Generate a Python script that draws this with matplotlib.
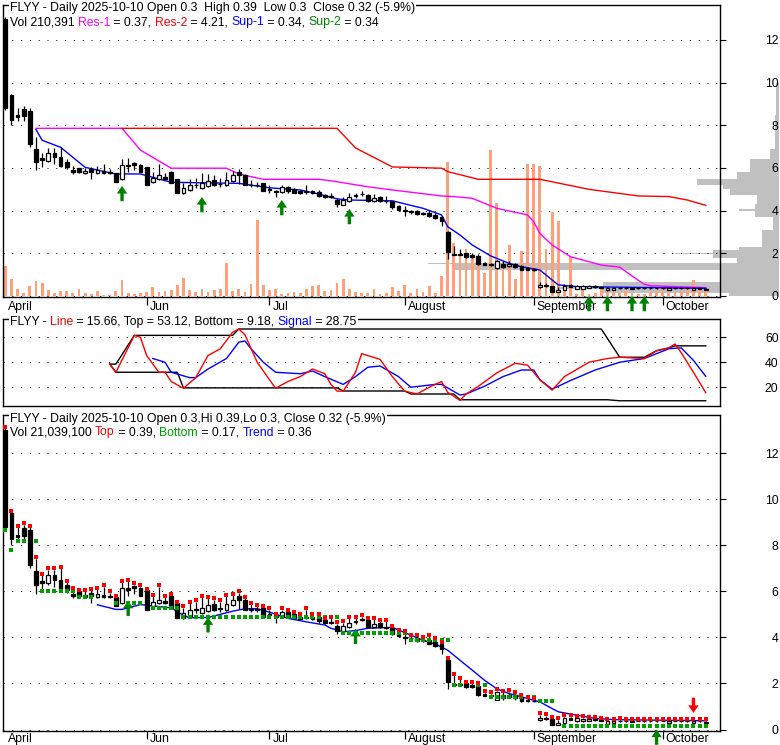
import numpy as np
import matplotlib
matplotlib.use('Agg')
import matplotlib.pyplot as plt
from matplotlib.patches import Rectangle

plt.rcParams['font.family'] = ['Liberation Sans', 'DejaVu Sans']

# ---- data (trading days 2025-04-29 .. 2025-10-10) ----
opens = [13.0, 9.43, 8.47, 8.78, 8.65, 6.9, 6.45, 6.35, 6.7, 6.5,
         6.3, 5.9, 6.0, 5.75, 5.95, 5.75, 5.85, 5.82, 5.75, 5.5,
         6.14, 6.25, 6.15, 6.05, 5.35, 5.5, 5.6, 5.8, 5.5, 4.85,
         4.95, 5.22, 5.05, 5.15, 5.45, 5.27, 5.2, 5.4, 5.8, 5.65,
         5.22, 5.22, 5.3, 5.02, 4.92, 4.87, 5.1, 5.0, 4.9, 4.9,
         4.9, 4.87, 4.75, 4.67, 4.52, 4.27, 4.45, 4.72, 4.8, 4.75,
         4.45, 4.65, 4.47, 4.43, 4.2, 4.02, 3.99, 3.97, 3.87, 3.9,
         3.8, 3.7, 3.0, 1.97, 1.97, 2.0, 1.92, 1.87, 1.55, 1.5,
         1.3, 1.52, 1.4, 1.48, 1.4, 1.3, 1.25, 0.4, 0.5, 0.45,
         0.2, 0.3, 0.5, 0.35, 0.35, 0.38, 0.47, 0.43, 0.26, 0.3,
         0.39, 0.37, 0.33, 0.38, 0.37, 0.37, 0.37, 0.38, 0.28, 0.38,
         0.37, 0.37, 0.3, 0.36, 0.3]
highs = [13.1, 9.45, 8.8, 8.9, 8.8, 7.43, 6.7, 6.95, 6.95, 7.0,
         6.4, 6.1, 6.0, 6.0, 6.05, 6.1, 6.2, 5.95, 5.75, 6.4,
         6.45, 6.3, 6.2, 6.05, 5.8, 6.2, 5.75, 5.85, 5.5, 5.3,
         5.5, 5.55, 5.75, 5.7, 5.65, 5.55, 5.8, 5.85, 5.95, 5.7,
         5.45, 5.35, 5.3, 5.2, 4.95, 5.2, 5.15, 5.05, 4.95, 5.2,
         4.95, 4.95, 4.8, 4.85, 4.6, 4.65, 4.85, 4.85, 4.9, 4.78,
         4.8, 4.7, 4.7, 4.45, 4.25, 4.2, 4.05, 4.05, 3.95, 4.05,
         3.9, 3.75, 3.05, 2.35, 2.2, 2.0, 2.0, 1.95, 1.6, 1.55,
         1.68, 1.62, 1.65, 1.55, 1.45, 1.35, 1.3, 0.65, 0.6, 0.48,
         0.42, 0.55, 0.55, 0.52, 0.52, 0.5, 0.5, 0.45, 0.4, 0.4,
         0.42, 0.4, 0.4, 0.4, 0.39, 0.39, 0.39, 0.39, 0.39, 0.39,
         0.39, 0.39, 0.39, 0.39, 0.39]
lows = [8.7, 8.0, 8.2, 8.2, 7.0, 5.9, 6.05, 6.3, 6.2, 6.05,
        5.95, 5.7, 5.75, 5.7, 5.5, 5.7, 5.7, 5.7, 5.35, 5.45,
        5.8, 5.9, 5.8, 5.2, 5.3, 5.45, 5.45, 5.3, 4.85, 4.8,
        4.9, 5.05, 5.0, 5.1, 5.15, 5.1, 5.15, 5.35, 5.25, 5.2,
        5.1, 5.1, 4.9, 4.85, 4.65, 4.85, 4.85, 4.82, 4.8, 4.8,
        4.78, 4.65, 4.6, 4.6, 4.17, 4.25, 4.4, 4.6, 4.7, 4.4,
        4.4, 4.4, 4.35, 4.1, 4.0, 3.73, 3.85, 3.8, 3.8, 3.7,
        3.6, 3.3, 1.75, 1.9, 1.9, 1.8, 1.8, 1.45, 1.45, 1.4,
        1.28, 1.3, 1.35, 1.3, 1.2, 1.2, 1.18, 0.38, 0.4, 0.18,
        0.18, 0.28, 0.4, 0.33, 0.33, 0.36, 0.38, 0.36, 0.25, 0.28,
        0.34, 0.34, 0.32, 0.35, 0.34, 0.34, 0.34, 0.35, 0.27, 0.35,
        0.34, 0.34, 0.3, 0.33, 0.3]
closes = [8.8, 8.26, 8.38, 8.43, 7.13, 6.26, 6.38, 6.7, 6.5, 6.1,
          6.05, 5.8, 5.8, 5.85, 5.8, 5.9, 5.75, 5.78, 5.35, 6.15,
          6.08, 6.15, 5.8, 5.2, 5.55, 5.65, 5.5, 5.3, 4.85, 5.05,
          5.2, 5.18, 5.3, 5.4, 5.2, 5.23, 5.45, 5.65, 5.65, 5.2,
          5.18, 5.18, 4.9, 4.98, 4.88, 5.1, 4.9, 4.85, 4.82, 4.86,
          4.82, 4.7, 4.65, 4.63, 4.3, 4.5, 4.65, 4.68, 4.76, 4.45,
          4.6, 4.45, 4.43, 4.17, 4.05, 3.98, 3.96, 3.83, 3.84, 3.73,
          3.65, 3.5, 2.05, 1.94, 1.94, 1.83, 1.85, 1.48, 1.45, 1.45,
          1.65, 1.35, 1.52, 1.35, 1.22, 1.22, 1.22, 0.52, 0.47, 0.2,
          0.3, 0.48, 0.42, 0.48, 0.47, 0.45, 0.4, 0.38, 0.36, 0.37,
          0.36, 0.36, 0.38, 0.37, 0.36, 0.36, 0.36, 0.37, 0.38, 0.37,
          0.36, 0.36, 0.36, 0.35, 0.32]
# volume, thousands of shares
volume = [1260, 714, 294, 126, 420, 630, 546, 252, 126, 210,
          210, 126, 294, 126, 84, 210, 42, 42, 210, 672,
          126, 84, 126, 168, 378, 168, 210, 252, 462, 756,
          252, 168, 294, 168, 252, 294, 1386, 210, 294, 168,
          504, 3192, 462, 252, 294, 84, 126, 168, 126, 294,
          420, 462, 210, 252, 546, 714, 294, 168, 126, 126,
          294, 84, 126, 378, 210, 462, 126, 294, 168, 420,
          126, 840, 5628, 2226, 1680, 1974, 1722, 1344, 966, 6132,
          3906, 1428, 2142, 714, 1890, 5544, 5544, 5460, 1974, 3528,
          3150, 420, 1638, 84, 294, 84, 126, 294, 168, 126,
          126, 210, 126, 84, 84, 168, 210, 294, 126, 168,
          210, 336, 672, 294, 210]

month_names = ['April', 'Jun', 'Jul', 'August', 'September', 'October']
month_idx = [0, 23, 43, 65, 86, 107]

# support / resistance lines (day index, price)
res1_idx = [5, 19, 22, 27, 36, 38, 42, 51, 53, 59, 63, 71, 73, 76, 80, 85, 86, 87, 89, 92, 97, 100, 102, 104, 105, 114]
res1_val = [7.86, 7.86, 6.84, 5.99, 5.99, 5.72, 5.47, 5.47, 5.4, 5.12, 4.97, 4.69, 4.66, 4.58, 4.11, 3.8, 3.48, 2.94, 2.39, 1.84, 1.45, 1.35, 0.94, 0.55, 0.48, 0.39]
res2_idx = [19, 54, 57, 63, 71, 72, 77, 87, 95, 103, 108, 111, 114]
res2_val = [7.86, 7.86, 6.94, 6.05, 5.99, 5.83, 5.47, 5.47, 5.0, 4.69, 4.66, 4.5, 4.25]
sup1_idx = [5, 6, 9, 13, 18, 22, 27, 38, 43, 48, 51, 54, 56, 63, 68, 71, 72, 74, 76, 79, 82, 84, 87, 89, 90, 93, 114]
sup1_val = [7.8, 7.3, 6.97, 6.03, 5.72, 5.72, 5.33, 5.28, 5.07, 4.97, 4.78, 4.55, 4.5, 4.46, 4.11, 3.8, 3.25, 2.86, 2.39, 1.88, 1.53, 1.37, 1.22, 0.75, 0.52, 0.44, 0.36]
buy_top_idx = [19, 32, 45, 56]
buy_top_tip = [5.16, 4.64, 4.5, 4.08]
buy_axis_idx = [95, 98, 102, 104]

# volume-at-price histogram (price band low/high, relative volume)
vap_lo = [0.0, 0.14, 0.35, 0.65, 1.2, 1.5, 1.55, 1.8, 1.95, 2.15, 2.3, 3.1, 3.7, 4.0, 4.3, 4.75, 5.0, 5.2, 5.5, 5.8, 6.4, 6.9, 8.5]
vap_hi = [0.14, 0.65, 0.4, 1.2, 1.55, 1.55, 1.8, 2.15, 2.0, 2.3, 3.1, 3.7, 4.3, 4.1, 4.75, 5.0, 5.2, 5.5, 5.8, 6.4, 6.9, 8.5, 10.0]
vap_vol = [50, 176, 222, 59, 326, 351, 42, 66, 104, 40, 17, 6, 24, 40, 22, 49, 56, 82, 42, 29, 9, 4, 3]

# oscillator panel
line_idx = [17, 18, 21, 22, 23, 25, 26, 27, 29, 31, 33, 35, 37, 38, 39, 41, 43, 44, 46, 48, 50, 52, 53, 54, 55, 57, 58, 61, 63, 65, 67, 69, 71, 72, 74, 75, 77, 80, 83, 85, 87, 89, 91, 95, 98, 100, 104, 106, 108, 109, 110, 112, 114]
line_val = [38.5, 32, 61.5, 60, 45.4, 32, 32, 24.6, 19.2, 27.7, 45.4, 50.8, 64, 66.6, 62, 40, 26, 19.2, 24.6, 28.5, 34.6, 30.8, 22.3, 16.9, 16.9, 32, 46.9, 42.3, 28.5, 16.9, 14.6, 20, 24.6, 16, 9.5, 14.6, 20.8, 31.5, 39.2, 37.7, 26, 17.7, 28.5, 40, 43, 44, 43, 49.2, 51.5, 54.6, 47.7, 32, 15.66]
signal_idx = [24, 26, 27, 30, 31, 33, 36, 38, 39, 40, 42, 44, 48, 50, 52, 55, 57, 59, 61, 64, 66, 70, 71, 74, 75, 78, 81, 84, 86, 87, 89, 92, 96, 100, 104, 106, 108, 110, 112, 114]
signal_val = [43, 40, 32, 27.7, 27.7, 34.6, 43, 56, 57, 50.8, 40, 32, 30.8, 33, 28.5, 22.3, 28.5, 36, 37, 28.5, 20, 22.3, 22.3, 13.8, 14.6, 20.8, 28.5, 33.8, 33.8, 26, 18.5, 25.4, 33.8, 40, 43, 46.9, 50.8, 51.5, 41.5, 28.75]
top_idx = [17, 18, 21, 37, 38, 97, 100, 104, 106, 108, 109, 114]
top_val = [38.5, 38.5, 61.5, 61.5, 66.6, 66.6, 44, 44, 49.2, 51.5, 53.12, 53.12]
bot_idx = [17, 18, 28, 29, 54, 55, 65, 66, 73, 74, 98, 100, 114]
bot_val = [38.5, 32, 32, 19.5, 19.5, 17, 17, 14.6, 14.6, 10, 10, 9.18, 9.18]

# lower panel
trend_idx = [15, 18, 19, 22, 23, 27, 29, 30, 33, 37, 39, 41, 43, 46, 49, 52, 53, 55, 57, 59, 63, 66, 68, 70, 72, 74, 76, 78, 80, 82, 84, 87, 89, 90, 93, 96, 99, 114]
trend_val = [5.42, 5.22, 5.22, 5.43, 5.4, 5.29, 4.96, 4.86, 4.87, 5.14, 5.25, 5.25, 5.1, 4.83, 4.68, 4.54, 4.4, 4.25, 4.3, 4.4, 4.44, 4.1, 3.88, 3.71, 3.45, 3.01, 2.58, 2.14, 1.77, 1.56, 1.42, 1.2, 0.91, 0.77, 0.62, 0.48, 0.43, 0.38]
bottom_start = [0, 1, 2, 5, 6, 12, 18, 20, 24, 29, 55, 66, 73, 77, 79, 87, 91]
bottom_end = [0, 1, 3, 5, 11, 14, 18, 22, 28, 54, 65, 72, 74, 78, 86, 89, 114]
bottom_level = [8.65, 7.8, 8.2, 8.2, 6.04, 5.78, 5.5, 5.5, 5.3, 4.87, 4.2, 3.9, 1.95, 1.95, 1.4, 1.22, 0.17]
buy_low_idx = [20, 33, 57]
buy_low_tip = [5.6, 4.88, 4.38]
buy_low_axis_idx = [106]
sell_low_idx = [112]
sell_low_tip = [0.72]

# ---- layout ----
W, H = 780, 745
L, R = 3.5, 719.5
fig = plt.figure(figsize=(W / 100, H / 100), dpi=100)


def box(top, bottom, left=L, right=R):
    return [left / W, 1 - bottom / H, (right - left) / W, (bottom - top) / H]


ax_h = fig.add_axes(box(5, 297, L, 779))
ax1 = fig.add_axes(box(5, 297))
ax2 = fig.add_axes(box(319, 406))
ax3 = fig.add_axes(box(415, 731))

x = np.arange(len(closes))
o, h, l, c = map(np.array, (opens, highs, lows, closes))
dots = (0, (1, 7.8))
FS = 8.8


def style(ax, ylim, ticks):
    ax.set_facecolor('none')
    ax.set_xlim(-0.29, 116.24)
    ax.set_ylim(*ylim)
    for s in ax.spines.values():
        s.set_linewidth(1.0)
    ax.yaxis.tick_right()
    ax.set_yticks(ticks)
    ax.set_yticklabels([str(t) for t in ticks])
    ax.tick_params(axis='y', length=4, width=0.8, labelsize=FS, pad=38.5)
    plt.setp(ax.get_yticklabels(), ha='right')
    for t in ticks:
        ax.axhline(t, color='black', lw=0.72, ls=dots, zorder=0.5)


def months(ax, drop):
    ax.set_xticks(month_idx[1:])
    ax.set_xticklabels([])
    ax.tick_params(axis='x', length=6, width=0.9)
    for i, name in zip(month_idx, month_names):
        ax.annotate(name, xy=(i, 0), xycoords=('data', 'axes fraction'),
                    xytext=(2.2, -drop), textcoords='offset points',
                    ha='left', va='top', fontsize=FS, annotation_clip=False)


def candles(ax):
    ax.vlines(x, l, h, color='black', lw=0.9, zorder=3)
    up = c >= o
    bot = np.minimum(o, c)
    hgt = np.maximum(np.abs(c - o), 0.005)
    ax.bar(x[up], hgt[up], bottom=bot[up], width=0.62, color='white',
           edgecolor='black', lw=0.9, zorder=4)
    ax.bar(x[~up], hgt[~up], bottom=bot[~up], width=0.62, color='black',
           edgecolor='black', lw=0.9, zorder=4)


def arrows(ax, xs, tips, color, down=False):
    for xi, t in zip(xs, tips):
        ax.annotate('', xy=(xi, t), xytext=(0, 11 if down else -11),
                    textcoords='offset points', annotation_clip=False,
                    arrowprops=dict(facecolor=color, edgecolor='none', width=2.4,
                                    headwidth=7.5, headlength=5.5, shrink=0))


# ---- panel 1: price, volume, S/R ----
style(ax1, (-0.047, 13.64), [0, 2, 4, 6, 8, 10, 12])
months(ax1, 3)
vol_scale = 6.84 / max(volume)
ax1.bar(x, np.array(volume) * vol_scale, width=0.45, color='#FFA07A', zorder=1)
candles(ax1)
ax1.plot(res1_idx, res1_val, color='#FF00FF', lw=1.0, zorder=2)
ax1.plot(res2_idx, res2_val, color='#FF0000', lw=1.0, zorder=2)
ax1.plot(sup1_idx, sup1_val, color='#0000FF', lw=1.0, zorder=2)
arrows(ax1, buy_top_idx, buy_top_tip, '#008000')
arrows(ax1, buy_axis_idx, [0] * len(buy_axis_idx), '#008000')

ax_h.set_xlim(0, 779 - L)
ax_h.set_ylim(-0.047, 13.64)
ax_h.axis('off')
vv = np.array(vap_vol, dtype=float)
ax_h.barh((np.array(vap_lo) + np.array(vap_hi)) / 2, vv, left=(779 - L) - vv,
          height=np.array(vap_hi) - np.array(vap_lo), color='#C0C0C0', lw=0)

# ---- panel 2: oscillator ----
style(ax2, (5.0, 74.6), [20, 40, 60])
ax2.set_xticks([])
ax2.plot(top_idx, top_val, color='black', lw=1.0)
ax2.plot(bot_idx, bot_val, color='black', lw=1.0)
ax2.plot(signal_idx, signal_val, color='#0000FF', lw=1.0)
ax2.plot(line_idx, line_val, color='#FF0000', lw=1.0)

# ---- panel 3: price with top/bottom markers ----
style(ax3, (-0.065, 13.67), [0, 2, 4, 6, 8, 10, 12])
months(ax3, 1.2)
ax3.plot(trend_idx, trend_val, color='#0000FF', lw=1.0, zorder=2)
for s, e, lev in zip(bottom_start, bottom_end, bottom_level):
    xs = np.arange(s, e + 1)
    ax3.plot(xs, [lev] * len(xs), ls='none', marker='s', ms=2.5, mew=0,
             color='#00A000', zorder=5)
candles(ax3)
ax3.plot(x, h + 0.06, ls='none', marker='s', ms=2.5, mew=0, color='#FF0000', zorder=5)
arrows(ax3, buy_low_idx, buy_low_tip, '#008000')
arrows(ax3, buy_low_axis_idx, [0], '#008000')
arrows(ax3, sell_low_idx, sell_low_tip, '#FF0000', down=True)

# ---- title lines with coloured words ----
renderer = fig.canvas.get_renderer()


def text_width(s):
    t = fig.text(0, 0, s + '|', fontsize=FS)
    b = fig.text(0, 0, '|', fontsize=FS)
    w = t.get_window_extent(renderer).width - b.get_window_extent(renderer).width
    t.remove()
    b.remove()
    return w


def put_line(x_px, y_px, pieces):
    full = ''.join(s for s, _ in pieces)
    fig.add_artist(Rectangle(((x_px - 1) / W, 1 - (y_px + 3.5) / H), (text_width(full) + 2) / W,
                             14 / H, transform=fig.transFigure, fc='white', ec='none', zorder=5))
    dx = 0.0
    for s, col in pieces:
        fig.text((x_px + dx) / W, 1 - y_px / H, s, color=col, fontsize=FS,
                 va='baseline', zorder=6)
        dx += text_width(s)


K = 'black'
put_line(10, 11.5, [('FLYY - Daily 2025-10-10 Open 0.3  High 0.39  Low 0.3  Close 0.32 (-5.9%)', K)])
put_line(10, 25.5, [('Vol 210,391 ', K), ('Res-1', '#FF00FF'), (' = 0.37, ', K), ('Res-2', '#FF0000'),
                    (' = 4.21, ', K), ('Sup-1', '#0000FF'), (' = 0.34, ', K), ('Sup-2', '#008000'),
                    (' = 0.34', K)])
put_line(10, 325, [('FLYY - ', K), ('Line', '#FF0000'), (' = 15.66, Top = 53.12, Bottom = 9.18, ', K),
                   ('Signal', '#0000FF'), (' = 28.75', K)])
put_line(10, 421.5, [('FLYY - Daily 2025-10-10 Open 0.3,Hi 0.39,Lo 0.3, Close 0.32 (-5.9%)', K)])
put_line(10, 435.5, [('Vol 21,039,100 ', K), ('Top', '#FF0000'), (' = 0.39, ', K), ('Bottom', '#009900'),
                     (' = 0.17, ', K), ('Trend', '#0000FF'), (' = 0.36', K)])

fig.savefig('out.png', dpi=100)
